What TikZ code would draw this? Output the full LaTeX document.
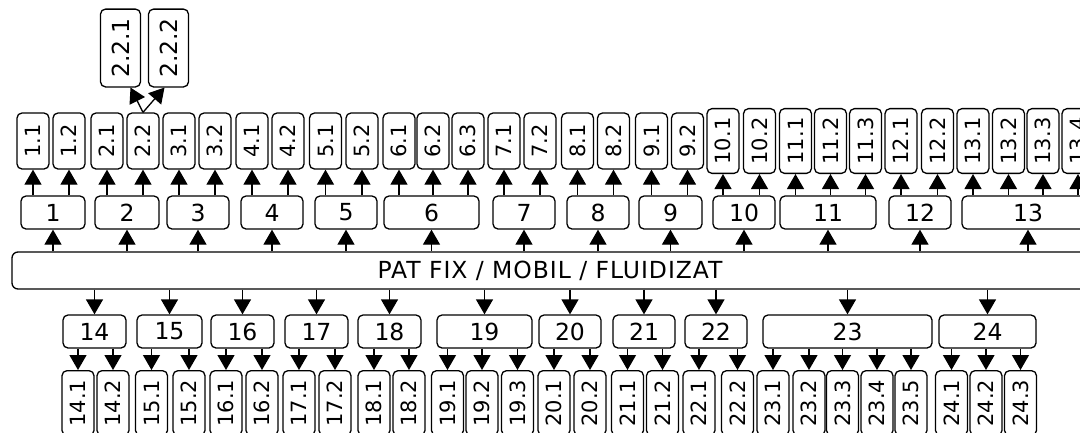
\documentclass[tikz,border=0pt]{standalone}
\usepackage{graphicx}
\usepackage{fontspec}
\setmainfont{DejaVu Sans}
\usetikzlibrary{arrows.meta}

\begin{document}
\begin{tikzpicture}[
  x=1pt, y=-1pt,
  bar/.style={draw, rounded corners=6pt, line width=1.3pt, inner sep=0pt, minimum height=37pt,
    font={\fontsize{23.5}{26}\selectfont\addfontfeature{LetterSpace=4}}},
  grp/.style={draw, rounded corners=5pt, line width=1.3pt, inner sep=0pt, minimum height=33pt, font=\fontsize{23.5}{26}\selectfont},
  leaf/.style={draw, rounded corners=5pt, line width=1.3pt, inner xsep=0pt, inner ysep=9pt, minimum width=32pt, minimum height=56pt, font=\fontsize{21}{24}\selectfont},
  arr/.style={-{Triangle[length=15pt, width=17pt]}, line width=1.3pt}
]
\clip (0,0) rectangle (1080,432);

\node[bar, minimum width=1076pt] (main) at (550,270.5) {PAT FIX / MOBIL / FLUIDIZAT};

% upper groups
\node[grp, minimum width=64pt] (g1) at (53,212.5) {1};
\node[grp, minimum width=64pt] (g2) at (127,212.5) {2};
\node[grp, minimum width=62pt] (g3) at (198,212.5) {3};
\node[grp, minimum width=62pt] (g4) at (272,212.5) {4};
\node[grp, minimum width=62pt] (g5) at (346,212.5) {5};
\node[grp, minimum width=95pt] (g6) at (431.5,212.5) {6};
\node[grp, minimum width=62pt] (g7) at (524,212.5) {7};
\node[grp, minimum width=62pt] (g8) at (598,212.5) {8};
\node[grp, minimum width=63pt] (g9) at (670.5,212.5) {9};
\node[grp, minimum width=62pt] (g10) at (744,212.5) {10};
\node[grp, minimum width=96pt] (g11) at (828,212.5) {11};
\node[grp, minimum width=62pt] (g12) at (920,212.5) {12};
\node[grp, minimum width=132pt] (g13) at (1028,212.5) {13};

% lower groups
\node[grp, minimum width=63pt] (g14) at (94.5,331.5) {14};
\node[grp, minimum width=65pt] (g15) at (169.5,331.5) {15};
\node[grp, minimum width=63pt] (g16) at (242.5,331.5) {16};
\node[grp, minimum width=63pt] (g17) at (316.5,331.5) {17};
\node[grp, minimum width=63pt] (g18) at (389.5,331.5) {18};
\node[grp, minimum width=95pt] (g19) at (484.5,331.5) {19};
\node[grp, minimum width=62pt] (g20) at (570,331.5) {20};
\node[grp, minimum width=62pt] (g21) at (644,331.5) {21};
\node[grp, minimum width=62pt] (g22) at (716,331.5) {22};
\node[grp, minimum width=169pt] (g23) at (847.5,331.5) {23};
\node[grp, minimum width=97pt] (g24) at (987.5,331.5) {24};

\foreach \i in {1,...,13} \draw[arr] (main.north -| g\i) -- (g\i.south);
\foreach \i in {14,...,24} \draw[arr] (main.south -| g\i) -- (g\i.north);

% upper leaves
\foreach \x/\t/\p [count=\i] in {33/1.1/g1, 69/1.2/g1, 107/2.1/g2, 143/2.2/g2, 179/3.1/g3, 215/3.2/g3,
    252/4.1/g4, 288/4.2/g4, 325.5/5.1/g5, 362/5.2/g5, 399/6.1/g6, 433/6.2/g6, 468/6.3/g6,
    504/7.1/g7, 540/7.2/g7, 577.5/8.1/g8, 613.5/8.2/g8, 651.5/9.1/g9, 687.5/9.2/g9,
    723/10.1/g10, 759.5/10.2/g10, 795.5/11.1/g11, 830.5/11.2/g11, 865.5/11.3/g11,
    901/12.1/g12, 937.5/12.2/g12, 973/13.1/g13, 1008.5/13.2/g13, 1043/13.3/g13, 1078/13.4/g13} {
  \node[leaf] (u\i) at (\x,141) {\rotatebox{90}{\t}};
  \draw[arr] (\p.north -| u\i) -- (u\i.south);
}

\node[leaf, minimum width=40pt, minimum height=70pt, font=\fontsize{23.5}{26}\selectfont] (u221) at (120.5,48) {\rotatebox{90}{2.2.1}};
\node[leaf, minimum width=40pt, minimum height=70pt, font=\fontsize{23.5}{26}\selectfont] (u222) at (168.5,48) {\rotatebox{90}{2.2.2}};
\draw[arr] (u4.north) -- ([xshift=10pt]u221.south);
\draw[arr] (u4.north) -- ([xshift=-4pt]u222.south);

% lower leaves
\foreach \x/\t/\p [count=\i] in {78/14.1/g14, 113/14.2/g14, 151.5/15.1/g15, 189/15.2/g15, 226/16.1/g16, 262/16.2/g16,
    299/17.1/g17, 335/17.2/g17, 374/18.1/g18, 409/18.2/g18, 447.5/19.1/g19, 482/19.2/g19, 517.5/19.3/g19,
    554/20.1/g20, 590/20.2/g20, 627.5/21.1/g21, 662.5/21.2/g21, 699/22.1/g22, 737.5/22.2/g22,
    773/23.1/g23, 809/23.2/g23, 842.5/23.3/g23, 877/23.4/g23, 911/23.5/g23,
    951.5/24.1/g24, 986/24.2/g24, 1020.5/24.3/g24} {
  \node[leaf, anchor=north] (d\i) at (\x,370) {\rotatebox{90}{\t}};
  \draw[arr] (\p.south -| d\i) -- (d\i.north);
}
\end{tikzpicture}
\end{document}
